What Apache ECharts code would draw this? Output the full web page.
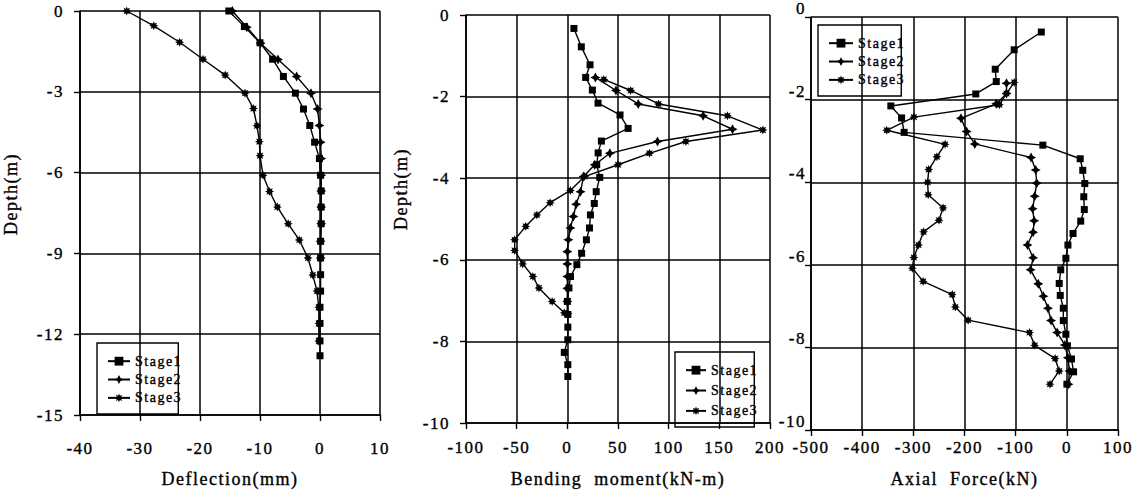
<!DOCTYPE html>
<html>
<head>
<meta charset="utf-8">
<script src="https://cdn.jsdelivr.net/npm/echarts@6/dist/echarts.min.js"></script>
<style>
  html, body { margin: 0; padding: 0; background: #fff; }
  #chart { width: 1134px; height: 498px; }
  #chart svg text { letter-spacing: 1.5px; }
</style>
</head>
<body>
<div id="chart"></div>
<script>
// ---- Wall deflection (mm) against depth (m) ----
const deflDepthS1 = [0, -0.58, -1.18, -1.79, -2.43, -3.05, -3.64, -4.25, -4.87, -5.48, -6.1, -6.68, -7.28, -7.9, -8.55, -9.17, -9.79, -10.4, -11.0, -11.6, -12.25, -12.8];
const deflS1 = [-15.2, -12.6, -10.0, -7.9, -6.1, -4.1, -2.75, -1.7, -0.9, -0.1, 0.1, 0.2, 0.2, 0.2, 0.1, 0.1, 0.1, 0.1, 0, 0, 0, 0];
const deflDepthS2 = [0, -0.6, -1.2, -1.8, -2.43, -3.05, -3.64, -4.25, -4.87, -5.48, -6.1, -6.68, -7.28, -7.9, -8.55, -9.17];
const deflS2 = [-14.6, -12.2, -9.9, -7.0, -3.9, -1.5, -0.4, -0.1, 0.1, 0.2, 0.2, 0.2, 0.2, 0.2, 0.1, 0.1];
const deflDepthS3 = [0, -0.55, -1.16, -1.79, -2.38, -3.05, -3.62, -4.26, -4.85, -5.37, -6.1, -6.7, -7.28, -7.9, -8.5, -9.17, -9.8, -10.4, -11.0, -11.6, -12.25];
const deflS3 = [-32.2, -27.7, -23.4, -19.5, -15.8, -12.5, -11.1, -10.5, -10.1, -10.0, -9.5, -8.4, -7.1, -5.3, -3.45, -2.0, -1.2, -0.5, -0.2, -0.2, -0.2];

// ---- Bending moment (kN-m) against depth (m) ----
const momDepthS1 = [-0.33, -0.78, -1.22, -1.53, -1.84, -2.16, -2.45, -2.78, -3.09, -3.38, -3.67, -3.98, -4.33, -4.62, -4.9, -5.22, -5.51, -5.84, -6.12, -6.41, -6.69, -7.02, -7.34, -7.65, -7.96, -8.27, -8.57, -8.86];
const momS1 = [6.5, 13.8, 22.4, 18.1, 24.7, 30.3, 52, 60, 33.6, 30.4, 29, 32, 28.5, 26.6, 22.8, 21.9, 18.8, 14.1, 9.4, 3.1, 1.6, 0, 0.5, 0.5, 0.5, -3, 0.5, 0.5];
const momDepthS2 = [-1.53, -1.85, -2.18, -2.47, -2.8, -3.1, -3.39, -3.67, -3.96, -4.33, -4.64, -4.94, -5.22, -5.51, -5.8, -6.1, -6.41, -6.7, -7.02, -7.32];
const momS2 = [27.7, 48, 70, 134, 163, 89, 42, 27, 16, 13, 8.7, 6, 3, 1, 0, 0, 0, 0, 0, 0];
const momDepthS3 = [-1.58, -1.85, -2.18, -2.47, -2.82, -3.1, -3.39, -3.67, -3.96, -4.3, -4.6, -4.9, -5.18, -5.51, -5.77, -6.1, -6.41, -6.69, -7.02, -7.3];
const momS3 = [36, 62.5, 90, 158, 193, 117, 81, 50, 17, 3, -17, -30, -41, -52, -52, -44, -34, -28, -15, -3];

// ---- Axial force (kN) against depth (m) ----
const axDepthS1 = [-0.36, -0.79, -1.26, -1.56, -1.86, -2.15, -2.44, -2.79, -3.1, -3.43, -3.71, -4.03, -4.35, -4.66, -4.94, -5.24, -5.52, -5.84, -6.12, -6.45, -6.74, -7.05, -7.35, -7.68, -7.96, -8.28, -8.59, -8.89];
const axS1 = [-50, -103, -140, -138, -178, -344, -323, -318, -47, 26, 31, 35, 33, 34, 27, 12, 2, -2, -12, -15, -13, -7, -7, -2, 1, 9, 13, 0];
const axDepthS2 = [-1.6, -1.85, -2.1, -2.45, -2.77, -3.07, -3.4, -3.7, -4.02, -4.34, -4.64, -4.93, -5.21, -5.52, -5.83, -6.12, -6.46, -6.76, -7.05, -7.35, -7.64, -7.94, -8.25, -8.57, -8.89];
const axS2 = [-118, -118, -138, -207, -196, -180, -70, -61, -59, -63, -67, -64, -66, -77, -66, -71, -56, -46, -37, -31, -19, -4, 2, 5, 3];
const axDepthS3 = [-1.58, -1.85, -2.12, -2.42, -2.74, -3.08, -3.38, -3.69, -4.0, -4.3, -4.62, -4.92, -5.2, -5.52, -5.82, -6.08, -6.4, -6.72, -7.02, -7.34, -7.64, -7.95, -8.27, -8.57, -8.89];
const axS3 = [-103, -118, -132, -299, -352, -238, -254, -270, -272, -271, -242, -250, -280, -290, -299, -302, -281, -224, -218, -193, -73, -63, -23, -15, -33];

const stageNames = ['Stage1', 'Stage2', 'Stage3'];

// star-shaped marker outline (n points)
function starPath(n, ro, ri) {
  let s = 'path://';
  for (let i = 0; i < 2 * n; i++) {
    const r = i % 2 ? ri : ro;
    const a = Math.PI * i / n - Math.PI / 2;
    s += (i ? 'L' : 'M') + (r * Math.cos(a)).toFixed(2) + ',' + (r * Math.sin(a)).toFixed(2) + ' ';
  }
  return s + 'Z';
}
const markers = [
  { symbol: 'rect', size: 7 },
  { symbol: starPath(4, 10, 5), size: 10 },
  { symbol: starPath(8, 10, 5.5), size: 9 }
];

const FONT = 'Liberation Serif';
const ink = '#000';
const heavy = { textBorderColor: ink, textBorderWidth: 0.35 };

function pairs(depths, vals) { return depths.map((d, i) => [vals[i], d]); }

function lineSeries(name, idx, panel, depths, vals) {
  return {
    type: 'line', name: name,
    xAxisIndex: panel, yAxisIndex: panel,
    data: pairs(depths, vals),
    symbol: markers[idx].symbol, symbolSize: markers[idx].size,
    showAllSymbol: true,
    lineStyle: { color: ink, width: 1.4 },
    itemStyle: { color: ink },
    emphasis: { disabled: true },
    animation: false
  };
}

function xAxis(panel, min, max, step, name, labelMargin, nameGap) {
  return {
    type: 'value', gridIndex: panel, min: min, max: max, interval: step,
    name: name, nameLocation: 'middle', nameGap: nameGap,
    nameTextStyle: Object.assign({ fontFamily: FONT, fontSize: 18, color: ink }, heavy),
    axisLine: { onZero: false, lineStyle: { color: ink, width: 1.6 } },
    axisTick: { show: true, length: 6, lineStyle: { color: ink, width: 1.4 } },
    axisLabel: Object.assign({ fontFamily: FONT, fontSize: 17, color: ink, margin: labelMargin }, heavy),
    splitLine: { show: true, lineStyle: { color: ink, width: 1.5 } }
  };
}

function yAxis(panel, min, max, step, name, labelMargin, nameGap, shiftUp, labelAlign) {
  return {
    type: 'value', gridIndex: panel, min: min, max: max, interval: step,
    name: name, nameLocation: 'middle', nameGap: nameGap,
    nameTextStyle: Object.assign({ fontFamily: FONT, fontSize: 18, color: ink, padding: [0, 0, 0, shiftUp * 2] }, heavy),
    axisLine: { onZero: false, lineStyle: { color: ink, width: 1.6 } },
    axisTick: { show: true, length: 6, lineStyle: { color: ink, width: 1.4 } },
    axisLabel: Object.assign({ fontFamily: FONT, fontSize: 17, color: ink, margin: labelMargin, verticalAlign: labelAlign }, heavy),
    splitLine: { show: true, lineStyle: { color: ink, width: 1.5 } }
  };
}

function legend(left, top, iconW, gap) {
  return {
    data: stageNames,
    orient: 'vertical', left: left, top: top,
    itemWidth: iconW, itemHeight: 11, itemGap: gap,
    padding: [11, 5, 9, 10],
    borderColor: ink, borderWidth: 1.4, borderRadius: 0,
    textStyle: Object.assign({ fontFamily: FONT, fontSize: 14, color: ink, lineHeight: 13 }, heavy),
    selectedMode: false
  };
}

const option = {
  backgroundColor: '#fff',
  animation: false,
  grid: [
    { left: 80, right: 754, top: 11, bottom: 83 },
    { left: 466, right: 364, top: 15, bottom: 75 },
    { left: 811, right: 14, top: 15, bottom: 68 }
  ],
  xAxis: [
    xAxis(0, -40, 10, 10, 'Deflection(mm)', 25, 55),
    xAxis(1, -100, 200, 50, 'Bending  moment(kN-m)', 16, 47),
    xAxis(2, -500, 100, 100, 'Axial  Force(kN)', 9, 40)
  ],
  yAxis: [
    yAxis(0, -15, 0, 3, 'Depth(m)', 16, 60, 19, 'middle'),
    yAxis(1, -10, 0, 2, 'Depth(m)', 16, 56, 30, 'middle'),
    yAxis(2, -10, 0, 2, '', 5, 40, 0, 'bottom')
  ],
  legend: [
    legend(97, 343, 22, 4),
    legend(675, 352, 20, 6),
    legend(818, 25, 24, 4)
  ],
  series: [
    lineSeries('Stage1', 0, 0, deflDepthS1, deflS1),
    lineSeries('Stage2', 1, 0, deflDepthS2, deflS2),
    lineSeries('Stage3', 2, 0, deflDepthS3, deflS3),
    lineSeries('Stage1', 0, 1, momDepthS1, momS1),
    lineSeries('Stage2', 1, 1, momDepthS2, momS2),
    lineSeries('Stage3', 2, 1, momDepthS3, momS3),
    lineSeries('Stage1', 0, 2, axDepthS1, axS1),
    lineSeries('Stage2', 1, 2, axDepthS2, axS2),
    lineSeries('Stage3', 2, 2, axDepthS3, axS3)
  ]
};

const chart = echarts.init(document.getElementById('chart'), null, { renderer: 'svg' });
chart.setOption(option);
</script>
</body>
</html>
